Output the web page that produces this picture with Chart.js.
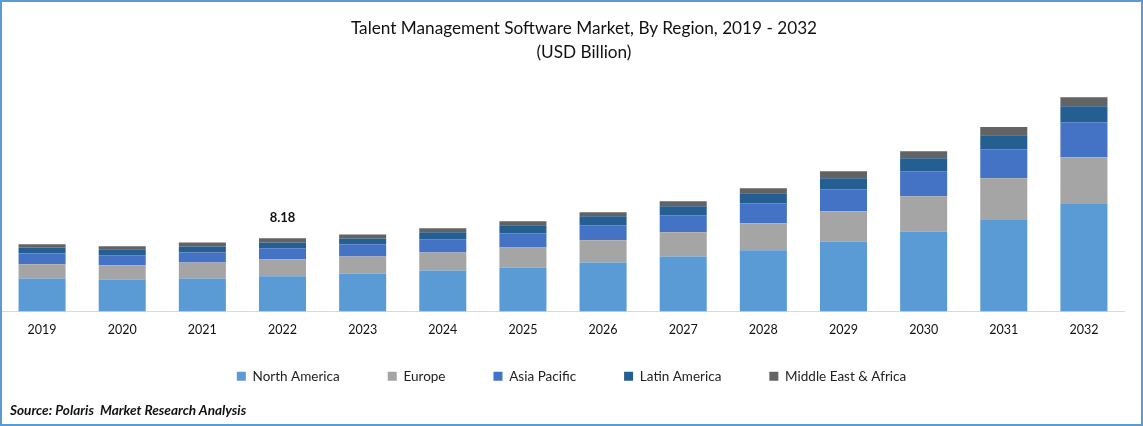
<!DOCTYPE html>
<html>
<head>
<meta charset="utf-8">
<title>Talent Management Software Market</title>
<script src="https://cdn.jsdelivr.net/npm/chart.js@4"></script>
<style>
    body { margin: 0; background: #fff; font-family: Lato, sans-serif; color: #111; }
    #wrap { position: relative; width: 1143px; height: 426px; overflow: hidden; }
    #frame { position: absolute; inset: 0; border: 2px solid #5B9BD5; pointer-events: none; }
    #title { position: absolute; left: 284px; width: 600px; top: 16px; text-align: center; font-size: 17.2px; line-height: 24px; }
    #source { position: absolute; left: 10px; top: 402px; font-size: 13.6px; font-weight: bold; font-style: italic; }
</style>
</head>
<body>
<div id="wrap">
    <canvas id="marketChart" width="1143" height="426"></canvas>
    <div id="title">Talent Management Software Market, By Region, 2019 - 2032<br>(USD Billion)</div>
    <div id="source">Source: Polaris&nbsp; Market Research Analysis</div>
    <div id="frame"></div>
</div>
<script>
// Values (USD Billion)
const years = ["2019", "2020", "2021", "2022", "2023", "2024", "2025", "2026", "2027", "2028", "2029", "2030", "2031", "2032"];
const northAmerica = [3.70, 3.59, 3.70, 3.93, 4.26, 4.59, 4.93, 5.49, 6.16, 6.84, 7.84, 8.96, 10.31, 12.10];
const europe = [1.57, 1.57, 1.79, 1.90, 1.90, 2.02, 2.24, 2.47, 2.69, 3.03, 3.36, 3.92, 4.59, 5.15];
const asiaPacific = [1.23, 1.12, 1.12, 1.23, 1.34, 1.46, 1.57, 1.68, 1.90, 2.24, 2.47, 2.80, 3.25, 3.92];
const latinAmerica = [0.67, 0.67, 0.67, 0.67, 0.67, 0.78, 0.90, 1.01, 1.01, 1.12, 1.23, 1.46, 1.57, 1.79];
const middleEastAfrica = [0.34, 0.34, 0.45, 0.45, 0.45, 0.45, 0.45, 0.45, 0.56, 0.56, 0.78, 0.78, 0.90, 1.01];
const calloutYear = "2022";
const calloutText = "8.18";

// Total label above one bar, and the legend row pulled up closer to the axis
const calloutPlugin = {
    id: "callout",
    afterLayout(chart) {
        chart.legend.top -= 15;
    },
    afterDatasetsDraw(chart) {
        const top = chart.getDatasetMeta(chart.data.datasets.length - 1).data[years.indexOf(calloutYear)];
        const ctx = chart.ctx;
        ctx.save();
        ctx.font = "bold 13px Lato, sans-serif";
        ctx.fillStyle = "#111";
        ctx.textAlign = "center";
        ctx.textBaseline = "bottom";
        ctx.fillText(calloutText, top.x, top.y - 14);
        ctx.restore();
    },
};

new Chart(document.getElementById("marketChart").getContext("2d"), {
    type: "bar",
    data: {
        labels: years,
        datasets: [
            { label: "North America", data: northAmerica, backgroundColor: "#5B9BD5" },
            { label: "Europe", data: europe, backgroundColor: "#A5A5A5" },
            { label: "Asia Pacific", data: asiaPacific, backgroundColor: "#4472C4" },
            { label: "Latin America", data: latinAmerica, backgroundColor: "#255E91" },
            { label: "Middle East & Africa", data: middleEastAfrica, backgroundColor: "#636363" },
        ],
    },
    options: {
        responsive: false,
        animation: false,
        barPercentage: 0.587,
        categoryPercentage: 1,
        layout: { padding: { top: 79, left: 2, right: 2, bottom: 18 } },
        plugins: {
            title: { display: false },
            tooltip: { enabled: false },
            legend: {
                position: "bottom",
                labels: {
                    boxWidth: 9,
                    boxHeight: 9,
                    padding: 48,
                    color: "#222",
                    font: { size: 13.5, family: "Lato, sans-serif" },
                },
            },
        },
        scales: {
            x: {
                stacked: true,
                grid: { display: false, drawTicks: false },
                border: { color: "#D9D9D9", width: 1 },
                ticks: { color: "#111", padding: 11, font: { size: 12.5, family: "Lato, sans-serif" } },
                afterFit: (scale) => { scale.height = 25; },
            },
            y: {
                stacked: true,
                position: "right",
                min: 0,
                max: 26,
                grid: { display: false },
                border: { display: false },
                ticks: { display: false },
                afterFit: (scale) => { scale.width = 17; },
            },
        },
    },
    plugins: [calloutPlugin],
});
</script>
</body>
</html>
